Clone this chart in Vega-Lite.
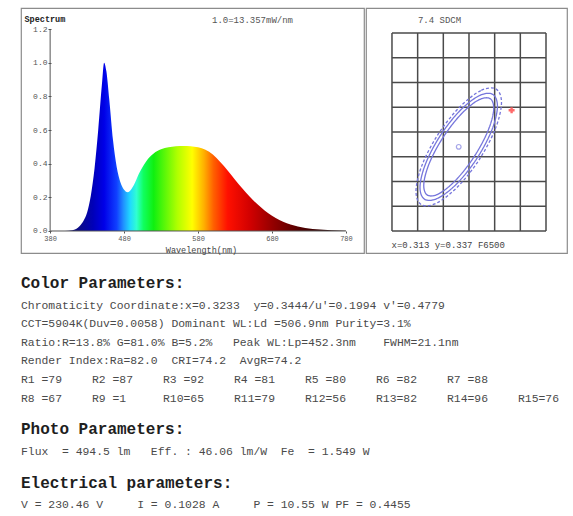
{
  "$schema": "https://vega.github.io/schema/vega-lite/v6.json",
  "background": "white",
  "padding": {"left": 20, "top": 7, "right": 0, "bottom": 0},
  "config": {
    "font": "Liberation Mono",
    "view": {"stroke": "#8c8c8c", "strokeWidth": 1.2},
    "axis": {"labelFont": "Liberation Mono", "titleFont": "Liberation Mono"},
    "title": {"font": "Liberation Mono"}
  },
  "datasets": {
    "spectrum": [
      {"wl": 380, "v": 0}, {"wl": 400, "v": 0}, {"wl": 410, "v": 0.004}, {"wl": 415, "v": 0.012},
      {"wl": 420, "v": 0.03}, {"wl": 425, "v": 0.06}, {"wl": 430, "v": 0.11}, {"wl": 435, "v": 0.21},
      {"wl": 440, "v": 0.37}, {"wl": 445, "v": 0.6}, {"wl": 450, "v": 0.87}, {"wl": 453, "v": 1.0},
      {"wl": 456, "v": 0.95}, {"wl": 460, "v": 0.78}, {"wl": 465, "v": 0.54}, {"wl": 470, "v": 0.38},
      {"wl": 475, "v": 0.29}, {"wl": 480, "v": 0.245}, {"wl": 485, "v": 0.23}, {"wl": 490, "v": 0.25},
      {"wl": 495, "v": 0.29}, {"wl": 500, "v": 0.34}, {"wl": 505, "v": 0.38}, {"wl": 510, "v": 0.415},
      {"wl": 520, "v": 0.46}, {"wl": 530, "v": 0.485}, {"wl": 540, "v": 0.497}, {"wl": 550, "v": 0.503},
      {"wl": 560, "v": 0.505}, {"wl": 570, "v": 0.503}, {"wl": 580, "v": 0.497}, {"wl": 590, "v": 0.483},
      {"wl": 600, "v": 0.455}, {"wl": 610, "v": 0.41}, {"wl": 620, "v": 0.36}, {"wl": 630, "v": 0.305},
      {"wl": 640, "v": 0.252}, {"wl": 650, "v": 0.203}, {"wl": 660, "v": 0.16}, {"wl": 670, "v": 0.122},
      {"wl": 680, "v": 0.09}, {"wl": 690, "v": 0.065}, {"wl": 700, "v": 0.046}, {"wl": 710, "v": 0.032},
      {"wl": 720, "v": 0.022}, {"wl": 730, "v": 0.015}, {"wl": 740, "v": 0.01}, {"wl": 760, "v": 0.005},
      {"wl": 780, "v": 0.002}
    ],
    "gridlines": [
      {"x": 0.300, "y": 0.320, "x2": 0.300, "y2": 0.360},
      {"x": 0.305, "y": 0.320, "x2": 0.305, "y2": 0.360},
      {"x": 0.310, "y": 0.320, "x2": 0.310, "y2": 0.360},
      {"x": 0.315, "y": 0.320, "x2": 0.315, "y2": 0.360},
      {"x": 0.320, "y": 0.320, "x2": 0.320, "y2": 0.360},
      {"x": 0.325, "y": 0.320, "x2": 0.325, "y2": 0.360},
      {"x": 0.330, "y": 0.320, "x2": 0.330, "y2": 0.360},
      {"x": 0.300, "y": 0.320, "x2": 0.330, "y2": 0.320},
      {"x": 0.300, "y": 0.325, "x2": 0.330, "y2": 0.325},
      {"x": 0.300, "y": 0.330, "x2": 0.330, "y2": 0.330},
      {"x": 0.300, "y": 0.335, "x2": 0.330, "y2": 0.335},
      {"x": 0.300, "y": 0.340, "x2": 0.330, "y2": 0.340},
      {"x": 0.300, "y": 0.345, "x2": 0.330, "y2": 0.345},
      {"x": 0.300, "y": 0.350, "x2": 0.330, "y2": 0.350},
      {"x": 0.300, "y": 0.355, "x2": 0.330, "y2": 0.355},
      {"x": 0.300, "y": 0.360, "x2": 0.330, "y2": 0.360}
    ],
    "ellipses": [
      {"e": "dash", "i": 0, "x": 0.32029, "y": 0.34866}, {"e": "dash", "i": 1, "x": 0.31730, "y": 0.34836},
      {"e": "dash", "i": 2, "x": 0.31316, "y": 0.34501}, {"e": "dash", "i": 3, "x": 0.30897, "y": 0.33952},
      {"e": "dash", "i": 4, "x": 0.30587, "y": 0.33335}, {"e": "dash", "i": 5, "x": 0.30468, "y": 0.32816},
      {"e": "dash", "i": 6, "x": 0.30571, "y": 0.32534}, {"e": "dash", "i": 7, "x": 0.30870, "y": 0.32564},
      {"e": "dash", "i": 8, "x": 0.31284, "y": 0.32899}, {"e": "dash", "i": 9, "x": 0.31703, "y": 0.33448},
      {"e": "dash", "i": 10, "x": 0.32013, "y": 0.34065}, {"e": "dash", "i": 11, "x": 0.32133, "y": 0.34584},
      {"e": "s1", "i": 0, "x": 0.31963, "y": 0.34760}, {"e": "s1", "i": 1, "x": 0.31694, "y": 0.34731},
      {"e": "s1", "i": 2, "x": 0.31319, "y": 0.34425}, {"e": "s1", "i": 3, "x": 0.30940, "y": 0.33925},
      {"e": "s1", "i": 4, "x": 0.30657, "y": 0.33365}, {"e": "s1", "i": 5, "x": 0.30546, "y": 0.32895},
      {"e": "s1", "i": 6, "x": 0.30638, "y": 0.32640}, {"e": "s1", "i": 7, "x": 0.30906, "y": 0.32669},
      {"e": "s1", "i": 8, "x": 0.31281, "y": 0.32975}, {"e": "s1", "i": 9, "x": 0.31660, "y": 0.33475},
      {"e": "s1", "i": 10, "x": 0.31943, "y": 0.34035}, {"e": "s1", "i": 11, "x": 0.32054, "y": 0.34505},
      {"e": "s2", "i": 0, "x": 0.31910, "y": 0.34675}, {"e": "s2", "i": 1, "x": 0.31675, "y": 0.34640},
      {"e": "s2", "i": 2, "x": 0.31340, "y": 0.34353}, {"e": "s2", "i": 3, "x": 0.30995, "y": 0.33891},
      {"e": "s2", "i": 4, "x": 0.30731, "y": 0.33378}, {"e": "s2", "i": 5, "x": 0.30620, "y": 0.32951},
      {"e": "s2", "i": 6, "x": 0.30691, "y": 0.32725}, {"e": "s2", "i": 7, "x": 0.30925, "y": 0.32760},
      {"e": "s2", "i": 8, "x": 0.31260, "y": 0.33047}, {"e": "s2", "i": 9, "x": 0.31605, "y": 0.33509},
      {"e": "s2", "i": 10, "x": 0.31869, "y": 0.34022}, {"e": "s2", "i": 11, "x": 0.31981, "y": 0.34449}
    ],
    "color": [
      {"line": 1, "col": 0, "text": "Chromaticity Coordinate:x=0.3233\u00a0 y=0.3444/u'=0.1994 v'=0.4779"},
      {"line": 2, "col": 0, "text": "CCT=5904K(Duv=0.0058) Dominant WL:Ld =506.9nm Purity=3.1%"},
      {"line": 3, "col": 0, "text": "Ratio:R=13.8% G=81.0% B=5.2%\u00a0\u00a0 Peak WL:Lp=452.3nm\u00a0\u00a0\u00a0 FWHM=21.1nm"},
      {"line": 4, "col": 0, "text": "Render Index:Ra=82.0\u00a0 CRI=74.2\u00a0 AvgR=74.2"},
      {"line": 5, "col": 0, "text": "R1 =79"}, {"line": 5, "col": 1, "text": "R2 =87"},
      {"line": 5, "col": 2, "text": "R3 =92"}, {"line": 5, "col": 3, "text": "R4 =81"},
      {"line": 5, "col": 4, "text": "R5 =80"}, {"line": 5, "col": 5, "text": "R6 =82"},
      {"line": 5, "col": 6, "text": "R7 =88"},
      {"line": 6, "col": 0, "text": "R8 =67"}, {"line": 6, "col": 1, "text": "R9 =1"},
      {"line": 6, "col": 2, "text": "R10=65"}, {"line": 6, "col": 3, "text": "R11=79"},
      {"line": 6, "col": 4, "text": "R12=56"}, {"line": 6, "col": 5, "text": "R13=82"},
      {"line": 6, "col": 6, "text": "R14=96"}, {"line": 6, "col": 7, "text": "R15=76"}
    ],
    "photo": [
      {"line": 1, "col": 0, "text": "Flux\u00a0 = 494.5 lm\u00a0\u00a0 Eff. : 46.06 lm/W\u00a0 Fe\u00a0 = 1.549 W"}
    ],
    "electrical": [
      {"line": 1, "col": 0, "text": "V = 230.46 V\u00a0\u00a0\u00a0\u00a0 I = 0.1028 A\u00a0\u00a0\u00a0\u00a0 P = 10.55 W PF = 0.4455"}
    ]
  },
  "spacing": 20.2,
  "vconcat": [
    {
      "spacing": 0,
      "hconcat": [
        {
          "width": 343,
          "height": 245,
          "title": {"text": "1.0=13.357mW/nm", "anchor": "middle", "offset": -17, "dx": 60, "fontSize": 9, "fontWeight": "normal", "color": "#555555"},
          "layer": [
            {
              "data": {"name": "spectrum"},
              "mark": {
                "type": "area",
                "interpolate": "monotone",
                "color": {
                  "x1": 0, "y1": 0, "x2": 1, "y2": 0, "gradient": "linear",
                  "stops": [
                    {"offset": 0, "color": "#000060"},
                    {"offset": 0.09, "color": "#0c0c80"},
                    {"offset": 0.145, "color": "#0000b8"},
                    {"offset": 0.1825, "color": "#0000e8"},
                    {"offset": 0.225, "color": "#1040ff"},
                    {"offset": 0.2475, "color": "#2090ff"},
                    {"offset": 0.27, "color": "#20d8ff"},
                    {"offset": 0.2925, "color": "#30ffd0"},
                    {"offset": 0.315, "color": "#10ff60"},
                    {"offset": 0.35, "color": "#10f010"},
                    {"offset": 0.43, "color": "#b0ff00"},
                    {"offset": 0.48, "color": "#ffff00"},
                    {"offset": 0.52, "color": "#ffb000"},
                    {"offset": 0.5525, "color": "#ff6000"},
                    {"offset": 0.6, "color": "#ff1000"},
                    {"offset": 0.6775, "color": "#d00000"},
                    {"offset": 0.7575, "color": "#900000"},
                    {"offset": 0.8475, "color": "#500000"},
                    {"offset": 0.96, "color": "#200000"},
                    {"offset": 1, "color": "#200000"}
                  ]
                }
              },
              "encoding": {
                "x": {
                  "field": "wl", "type": "quantitative",
                  "scale": {"domain": [340.6, 804.4], "nice": false, "zero": false},
                  "axis": {
                    "values": [380, 480, 580, 680, 780], "offset": -22, "domain": false, "grid": false,
                    "tickSize": 2, "tickColor": "#555555", "labelFontSize": 7, "labelColor": "#555555", "labelPadding": 1,
                    "title": "Wavelength(nm)", "titleFontSize": 8.5, "titleFontWeight": "normal", "titleColor": "#444444",
                    "titleX": 180, "titleY": 18, "titleBaseline": "middle", "titleAlign": "center"
                  }
                },
                "y": {
                  "field": "v", "type": "quantitative",
                  "scale": {"domain": [-0.1307, 1.3248], "nice": false, "zero": false},
                  "axis": {
                    "values": [0, 0.2, 0.4, 0.6, 0.8, 1.0, 1.2], "format": ".1f", "offset": -30, "domain": false, "grid": false,
                    "tickSize": 3, "tickColor": "#555555", "labelFontSize": 8, "labelColor": "#555555", "labelPadding": 1,
                    "title": "Spectrum", "titleAngle": 0, "titleAlign": "left", "titleBaseline": "middle",
                    "titleX": -27, "titleY": 10, "titleFontSize": 8.5, "titleFontWeight": "bold", "titleColor": "#222222"
                  }
                }
              }
            },
            {
              "data": {"values": [{}]},
              "mark": {"type": "rule", "color": "#555555", "strokeWidth": 1},
              "encoding": {"x": {"datum": 380}, "x2": {"datum": 780}, "y": {"datum": 0}}
            },
            {
              "data": {"values": [{}]},
              "mark": {"type": "rule", "color": "#555555", "strokeWidth": 1},
              "encoding": {"x": {"datum": 380}, "y": {"datum": 0}, "y2": {"datum": 1.2}}
            }
          ]
        },
        {
          "width": 201,
          "height": 245,
          "title": {"text": "7.4 SDCM", "anchor": "middle", "offset": -17, "dx": -27, "fontSize": 9, "fontWeight": "normal", "color": "#555555"},
          "encoding": {
            "x": {
              "field": "x", "type": "quantitative",
              "scale": {"domain": [0.29494, 0.33409], "nice": false, "zero": false},
              "axis": {
                "orient": "bottom", "offset": -22, "labels": false, "ticks": false, "domain": false, "grid": false,
                "title": "x=0.313 y=0.337 F6500", "titleFontSize": 9, "titleFontWeight": "normal", "titleColor": "#444444",
                "titleX": 25, "titleY": 13, "titleAlign": "left", "titleBaseline": "middle"
              }
            },
            "y": {
              "field": "y", "type": "quantitative",
              "scale": {"domain": [0.31556, 0.36505], "nice": false, "zero": false},
              "axis": null
            }
          },
          "layer": [
            {
              "data": {"name": "gridlines"},
              "mark": {"type": "rule", "color": "#4a4a4a", "strokeWidth": 1.5},
              "encoding": {"x2": {"field": "x2"}, "y2": {"field": "y2"}}
            },
            {
              "data": {"name": "ellipses"},
              "mark": {"type": "line", "interpolate": "cardinal-closed", "color": "#7676dc", "strokeWidth": 1.3},
              "encoding": {
                "detail": {"field": "e", "type": "nominal"},
                "order": {"field": "i", "type": "quantitative"},
                "strokeDash": {"field": "e", "type": "nominal", "scale": {"domain": ["dash", "s1", "s2"], "range": [[3, 2], [1, 0], [1, 0]]}, "legend": null}
              }
            },
            {
              "data": {"values": [{"x": 0.313, "y": 0.337}]},
              "mark": {"type": "point", "shape": "circle", "size": 22, "filled": false, "color": "#8080e0", "strokeWidth": 1.2}
            },
            {
              "data": {"values": [{"x": 0.3233, "y": 0.3444}]},
              "mark": {"type": "point", "shape": "cross", "size": 36, "filled": true, "color": "#ff5a5a", "opacity": 0.9}
            }
          ]
        }
      ]
    },
    {
      "spacing": 13.2,
      "vconcat": [
        {
          "data": {"name": "color"},
          "title": {"text": "Color Parameters:", "anchor": "start", "fontSize": 16, "fontWeight": "bold", "color": "#1e1e1e", "offset": 5},
          "width": 497,
          "height": {"step": 18.6},
          "view": {"stroke": null},
          "mark": {"type": "text", "align": "left", "baseline": "middle", "fontSize": 11.4, "color": "#4a4a4a"},
          "encoding": {
            "x": {"field": "col", "type": "quantitative", "scale": {"domain": [0, 7], "nice": false, "zero": false}, "axis": null},
            "y": {"field": "line", "type": "ordinal", "axis": null},
            "text": {"field": "text"}
          }
        },
        {
          "data": {"name": "photo"},
          "title": {"text": "Photo Parameters:", "anchor": "start", "fontSize": 16, "fontWeight": "bold", "color": "#1e1e1e", "offset": 5},
          "width": 497,
          "height": {"step": 18.6},
          "view": {"stroke": null},
          "mark": {"type": "text", "align": "left", "baseline": "middle", "fontSize": 11.4, "color": "#4a4a4a"},
          "encoding": {
            "x": {"field": "col", "type": "quantitative", "scale": {"domain": [0, 7], "nice": false, "zero": false}, "axis": null},
            "y": {"field": "line", "type": "ordinal", "axis": null},
            "text": {"field": "text"}
          }
        },
        {
          "data": {"name": "electrical"},
          "title": {"text": "Electrical parameters:", "anchor": "start", "fontSize": 16, "fontWeight": "bold", "color": "#1e1e1e", "offset": 5},
          "width": 497,
          "height": {"step": 18.6},
          "view": {"stroke": null},
          "mark": {"type": "text", "align": "left", "baseline": "middle", "fontSize": 11.4, "color": "#4a4a4a"},
          "encoding": {
            "x": {"field": "col", "type": "quantitative", "scale": {"domain": [0, 7], "nice": false, "zero": false}, "axis": null},
            "y": {"field": "line", "type": "ordinal", "axis": null},
            "text": {"field": "text"}
          }
        }
      ]
    }
  ]
}
